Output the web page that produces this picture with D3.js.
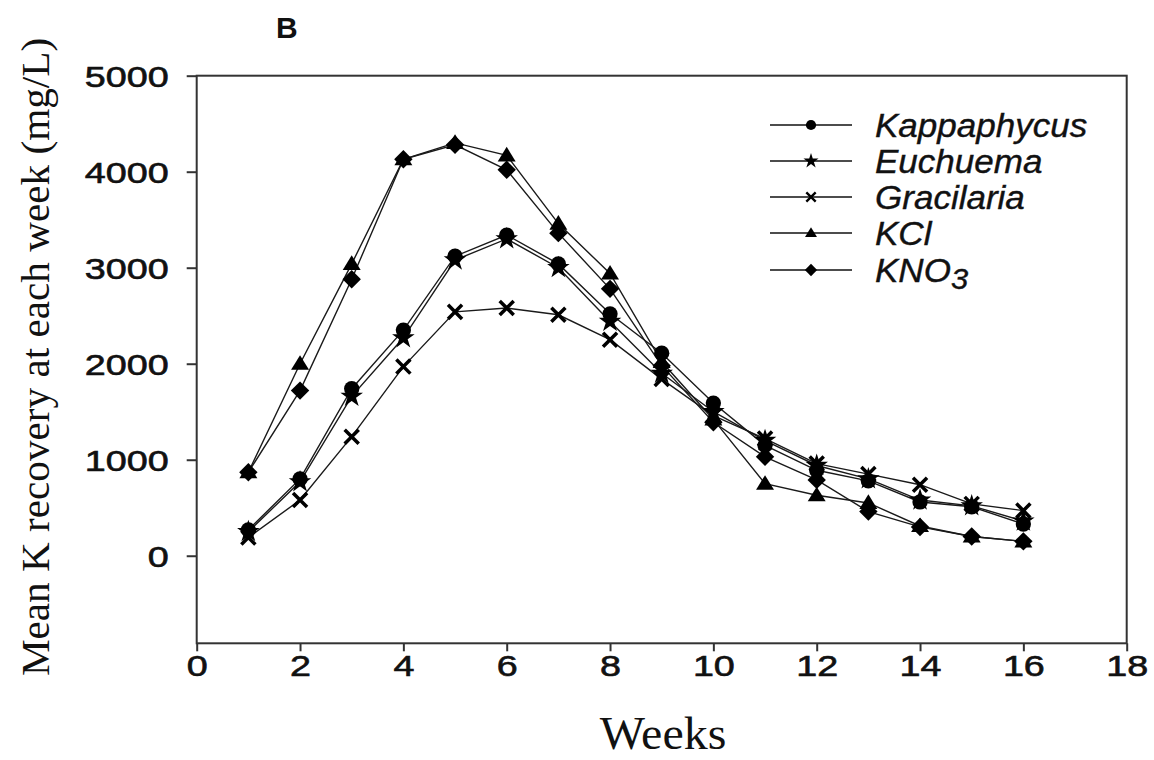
<!DOCTYPE html>
<html>
<head>
<meta charset="utf-8">
<script src="https://cdn.jsdelivr.net/npm/d3@7"></script>
<style>
  html, body { margin: 0; padding: 0; background: #fff; }
  svg { display: block; }
</style>
</head>
<body>
<svg id="chart" width="1154" height="760"></svg>
<script>
// Weekly mean potassium recovery (mg/L) for each K source
const weeks = [1, 2, 3, 4, 5, 6, 7, 8, 9, 10, 11, 12, 13, 14, 15, 16];
const kappaphycus = [270, 800, 1740, 2350, 3120, 3340, 3040, 2520, 2110, 1590, 1150, 890, 780, 560, 510, 330];
const euchuema    = [250, 770, 1660, 2270, 3080, 3300, 3000, 2440, 1900, 1500, 1200, 940, 800, 580, 520, 360];
const gracilaria  = [190, 580, 1240, 1970, 2540, 2580, 2510, 2250, 1840, 1460, 1220, 960, 850, 740, 540, 470];
const kcl         = [870, 2000, 3040, 4130, 4300, 4170, 3460, 2940, 2020, 1420, 750, 630, 550, 310, 200, 150];
const kno3        = [870, 1720, 2880, 4130, 4280, 4020, 3360, 2780, 1980, 1390, 1030, 790, 460, 300, 200, 150];

const seriesNames = ["Kappaphycus", "Euchuema", "Gracilaria", "KCl", "KNO3"];
const seriesValues = [kappaphycus, euchuema, gracilaria, kcl, kno3];
const seriesMarkers = ["circle", "star", "x", "triangle", "diamond"];

const xTicks = [0, 2, 4, 6, 8, 10, 12, 14, 16, 18];
const yTicks = [0, 1000, 2000, 3000, 4000, 5000];

const svg = d3.select("#chart");
const plotL = 196.7, plotR = 1126.7, plotT = 75.7, plotB = 643.3;

const x = d3.scaleLinear().domain([0, 18]).range([plotL, plotR]);
const y = d3.scaleLinear().domain([-912, 5000]).range([plotB, plotT]);

const sansFont = "'Liberation Sans', Arial, sans-serif";
const serifFont = "'Liberation Serif', 'Times New Roman', serif";

// stretch a text element horizontally by a factor
function stretch(sel, k) {
  sel.each(function () {
    const w = this.getComputedTextLength();
    d3.select(this).attr("textLength", w * k).attr("lengthAdjust", "spacingAndGlyphs");
  });
}

// marker shapes
function marker(g, type, s) {
  if (type === "circle") {
    g.append("circle").attr("r", s * 0.98).attr("fill", "#000");
  } else if (type === "star") {
    g.append("path").attr("d", d3.symbol(d3.symbolStar, s * s * 2.6)()).attr("fill", "#000");
  } else if (type === "x") {
    const a = s * 0.9;
    g.append("path").attr("d", `M${-a},${-a}L${a},${a}M${-a},${a}L${a},${-a}`)
      .attr("stroke", "#000").attr("stroke-width", s * 0.45).attr("fill", "none");
  } else if (type === "triangle") {
    g.append("path").attr("d", `M0,${-s * 1.1}L${s * 1.15},${s * 0.78}L${-s * 1.15},${s * 0.78}Z`).attr("fill", "#000");
  } else if (type === "diamond") {
    const a = s * 1.18;
    g.append("path").attr("d", `M0,${-a}L${a},0L0,${a}L${-a},0Z`).attr("fill", "#000");
  }
}

// series lines
const line = d3.line().x((d, i) => x(weeks[i])).y(d => y(d));
seriesValues.forEach((vals) => {
  svg.append("path").datum(vals).attr("d", line)
    .attr("fill", "none").attr("stroke", "#1a1a1a").attr("stroke-width", 1.4);
});

// series markers
seriesValues.forEach((vals, si) => {
  const g = svg.append("g");
  vals.forEach((v, i) => {
    const m = g.append("g").attr("transform", `translate(${x(weeks[i])},${y(v)})`);
    marker(m, seriesMarkers[si], 7.8);
  });
});

// frame
svg.append("rect").attr("x", plotL).attr("y", plotT).attr("width", plotR - plotL).attr("height", plotB - plotT)
  .attr("fill", "none").attr("stroke", "#333").attr("stroke-width", 2);

// y axis
const yAxis = d3.axisLeft(y).tickValues(yTicks).tickSize(10).tickPadding(18).tickFormat(d3.format("d"));
const gy = svg.append("g").attr("transform", `translate(${plotL},0)`).call(yAxis);
gy.select(".domain").remove();
gy.selectAll(".tick line").attr("stroke", "#333").attr("stroke-width", 2);
gy.selectAll(".tick text").attr("font-family", sansFont).attr("font-size", 29).attr("fill", "#111")
  .attr("stroke", "#111").attr("stroke-width", 0.6)
  .attr("dy", "0.36em").call(stretch, 1.3);

// x axis
const xAxis = d3.axisBottom(x).tickValues(xTicks).tickSize(8).tickPadding(4);
const gx = svg.append("g").attr("transform", `translate(0,${plotB})`).call(xAxis);
gx.select(".domain").remove();
gx.selectAll(".tick line").attr("stroke", "#333").attr("stroke-width", 2);
gx.selectAll(".tick text").attr("font-family", sansFont).attr("font-size", 29).attr("fill", "#111")
  .attr("stroke", "#111").attr("stroke-width", 0.6)
  .attr("dy", "0.72em").call(stretch, 1.3);

// axis titles
svg.append("text").attr("x", 663).attr("y", 749).attr("text-anchor", "middle")
  .attr("font-family", serifFont).attr("font-size", 47).attr("fill", "#111")
  .text("Weeks").call(stretch, 1.02);

svg.append("text").attr("transform", "translate(49,357) rotate(-90)").attr("text-anchor", "middle")
  .attr("font-family", serifFont).attr("font-size", 40).attr("fill", "#111")
  .text("Mean K recovery at each week (mg/L)").call(stretch, 1.03);

// panel letter
svg.append("text").attr("x", 276).attr("y", 38).attr("font-family", sansFont)
  .attr("font-weight", "bold").attr("font-size", 30).attr("fill", "#111").text("B");

// legend
const legendY = [125, 161, 197, 233, 270];
seriesNames.forEach((name, i) => {
  const g = svg.append("g").attr("transform", `translate(0,${legendY[i]})`);
  g.append("line").attr("x1", 770).attr("x2", 852).attr("y1", 0).attr("y2", 0)
    .attr("stroke", "#111").attr("stroke-width", 1.6);
  const m = g.append("g").attr("transform", "translate(811,0)");
  marker(m, seriesMarkers[i], 5.2);
  const t = g.append("text").attr("x", 875).attr("y", 12).attr("font-family", sansFont)
    .attr("font-style", "italic").attr("font-size", 34).attr("fill", "#111")
    .attr("stroke", "#111").attr("stroke-width", 0.4);
  if (name === "KNO3") {
    t.append("tspan").text("KNO");
    t.append("tspan").attr("dy", 7).attr("font-size", 30).text("3");
  } else {
    t.text(name);
  }
  t.call(stretch, 1.03);
});
</script>
</body>
</html>
